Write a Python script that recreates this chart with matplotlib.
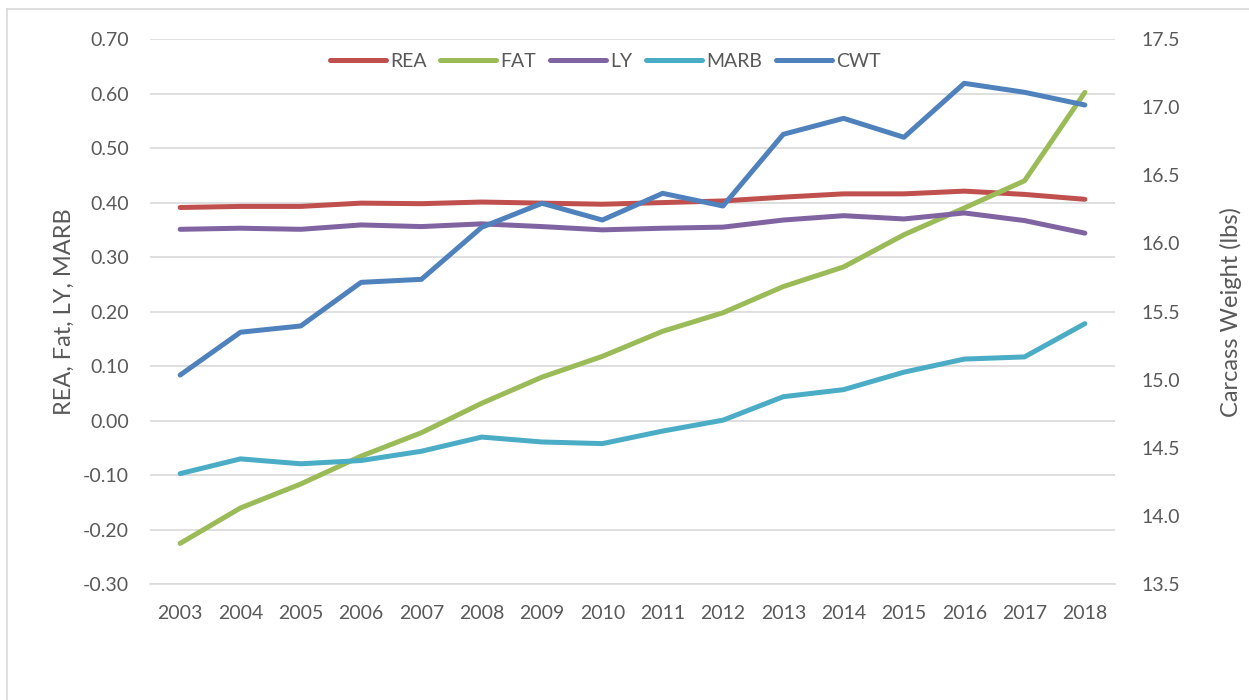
import matplotlib
matplotlib.use("Agg")
import matplotlib.pyplot as plt
import numpy as np
from matplotlib.lines import Line2D

plt.rcParams['font.family'] = ['Lato', 'DejaVu Sans']

# data
years = [2003, 2004, 2005, 2006, 2007, 2008, 2009, 2010,
         2011, 2012, 2013, 2014, 2015, 2016, 2017, 2018]
rea = [0.391, 0.393, 0.393, 0.399, 0.398, 0.401, 0.399, 0.397,
       0.400, 0.403, 0.410, 0.416, 0.416, 0.421, 0.415, 0.406]
fat = [-0.225, -0.160, -0.116, -0.065, -0.022, 0.032, 0.080, 0.118,
       0.164, 0.198, 0.246, 0.282, 0.341, 0.390, 0.440, 0.602]
ly = [0.351, 0.353, 0.351, 0.359, 0.356, 0.361, 0.356, 0.350,
      0.353, 0.355, 0.368, 0.376, 0.370, 0.381, 0.367, 0.344]
marb = [-0.097, -0.070, -0.079, -0.073, -0.056, -0.030, -0.039, -0.042,
        -0.019, 0.001, 0.044, 0.057, 0.089, 0.113, 0.117, 0.178]
cwt = [15.035, 15.349, 15.395, 15.715, 15.737, 16.119, 16.295, 16.172,
       16.368, 16.275, 16.801, 16.918, 16.779, 17.175, 17.109, 17.016]

left_ticks = [-0.30, -0.20, -0.10, 0.00, 0.10, 0.20, 0.30, 0.40, 0.50, 0.60, 0.70]
right_ticks = [13.5, 14.0, 14.5, 15.0, 15.5, 16.0, 16.5, 17.0, 17.5]

c_rea = '#C0504D'
c_fat = '#9BBB59'
c_ly = '#8064A2'
c_marb = '#4BACC6'
c_cwt = '#4F81BD'
txt = '#595959'
grid = '#D9D9D9'
title_font = ['Liberation Sans Narrow', 'Lato', 'DejaVu Sans']

fig = plt.figure(figsize=(12.49, 7.0), dpi=100)
ax = fig.add_axes([150 / 1249, 1 - 584.3 / 700, 965 / 1249, 545.3 / 700])
ax2 = ax.twinx()

lw = 3.6
kw = dict(linewidth=lw, solid_capstyle='round', solid_joinstyle='round')
ax.plot(years, rea, color=c_rea, **kw)
ax.plot(years, fat, color=c_fat, **kw)
ax.plot(years, ly, color=c_ly, **kw)
ax.plot(years, marb, color=c_marb, **kw)
ax2.plot(years, cwt, color=c_cwt, **kw)

ax.set_xlim(2002.5, 2018.5)
ax.set_ylim(-0.30, 0.70)
ax2.set_ylim(13.5, 17.5)
ax.set_xticks(years)
ax.set_xticklabels([str(y) for y in years])
ax.set_yticks(left_ticks)
ax.set_yticklabels(['%.2f' % v for v in left_ticks])
ax2.set_yticks(right_ticks)
ax2.set_yticklabels(['%.1f' % v for v in right_ticks])

for a in (ax, ax2):
    for s in a.spines.values():
        s.set_visible(False)
ax.spines['bottom'].set_visible(True)
ax.spines['bottom'].set_color(grid)
ax.spines['bottom'].set_linewidth(1.2)

ax.yaxis.grid(True, color=grid, linewidth=1.2)
ax.set_axisbelow(True)

ax.tick_params(axis='y', length=0, pad=15, labelsize=14, labelcolor=txt)
ax.tick_params(axis='x', length=0, pad=15, labelsize=14, labelcolor=txt)
ax2.tick_params(axis='y', length=0, pad=19, labelsize=14, labelcolor=txt)

ax.set_ylabel('REA, Fat, LY, MARB', fontsize=17, color=txt, labelpad=6,
              family=title_font)
ax2.set_ylabel('Carcass Weight (lbs)', fontsize=17, color=txt, labelpad=29,
               family=title_font)

handles = [Line2D([], [], color=c, linewidth=lw, solid_capstyle='round')
           for c in (c_rea, c_fat, c_ly, c_marb, c_cwt)]
labels = ['REA', 'FAT', 'LY', 'MARB', 'CWT']
leg = ax2.legend(handles, labels, loc='center',
                 bbox_to_anchor=((605 - 150) / 965, (584.3 - 61.7) / 545.3),
                 ncol=5, frameon=False, fontsize=14, handlelength=2.9,
                 handletextpad=0.2, columnspacing=0.7, borderpad=0)
for t in leg.get_texts():
    t.set_color(txt)

# chart area border
fig.add_artist(Line2D([7 / 1249, 7 / 1249], [0, 1 - 9 / 700], color=grid,
                      linewidth=1.2, transform=fig.transFigure))
fig.add_artist(Line2D([7 / 1249, 1], [1 - 9 / 700, 1 - 9 / 700], color=grid,
                      linewidth=1.2, transform=fig.transFigure))

fig.savefig('out.png', dpi=100)
